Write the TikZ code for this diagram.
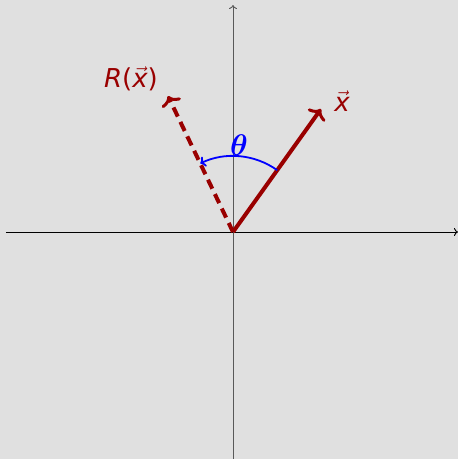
\documentclass[tikz,border=0pt]{standalone}
\usepackage{fontspec}
\usepackage{bm}
\usepackage{graphicx}
\setmainfont{DejaVu Sans}
\usetikzlibrary{arrows.meta}
\definecolor{bg}{HTML}{E0E0E0}
\definecolor{vred}{HTML}{990000}
\begin{document}
\begin{tikzpicture}[x=1pt,y=1pt,
  axis/.style={line width=0.9pt,-{To[length=4pt,width=8pt]}},
  vec/.style={vred,line width=4pt,-{To[length=9pt,width=21pt,line width=3pt]}},
  lbl/.style={vred,font=\fontsize{26}{30}\selectfont}]
\fill[bg] (-233,-227) rectangle (225,232);
\useasboundingbox (-233,-227) rectangle (225,232);
\coordinate (o) at (0,0);
\coordinate (xl) at (-227,0);
\coordinate (xr) at (225,0);
\coordinate (yb) at (0,-227);
\coordinate (yt) at (0,227);
\draw[axis,black] (xl) -- (xr);
\draw[axis,black!65] (yb) -- (yt);
\coordinate (v) at (88,123);
\coordinate (r) at (-65,136);
\draw[vec] (o) -- (v);
\draw[vec,dashed,dash pattern=on 10pt off 6pt] (o) -- (r);
\draw[blue,line width=1.8pt,-{To[length=5pt,width=11pt]}] (54.4:76) arc[start angle=54.4,end angle=115.5,radius=76];
\node[lbl] (xlab) at (109,131) {$\vec{\mbox{\itshape x}}$};
\node[lbl] (rlab) at (-102,153) {{\itshape R}($\vec{\mbox{\itshape x}}$)};
\node[blue,font=\fontsize{24.88}{30}\selectfont] (th) at (6,87) {\scalebox{1.2}{$\bm{\theta}$}};
\end{tikzpicture}
\end{document}
